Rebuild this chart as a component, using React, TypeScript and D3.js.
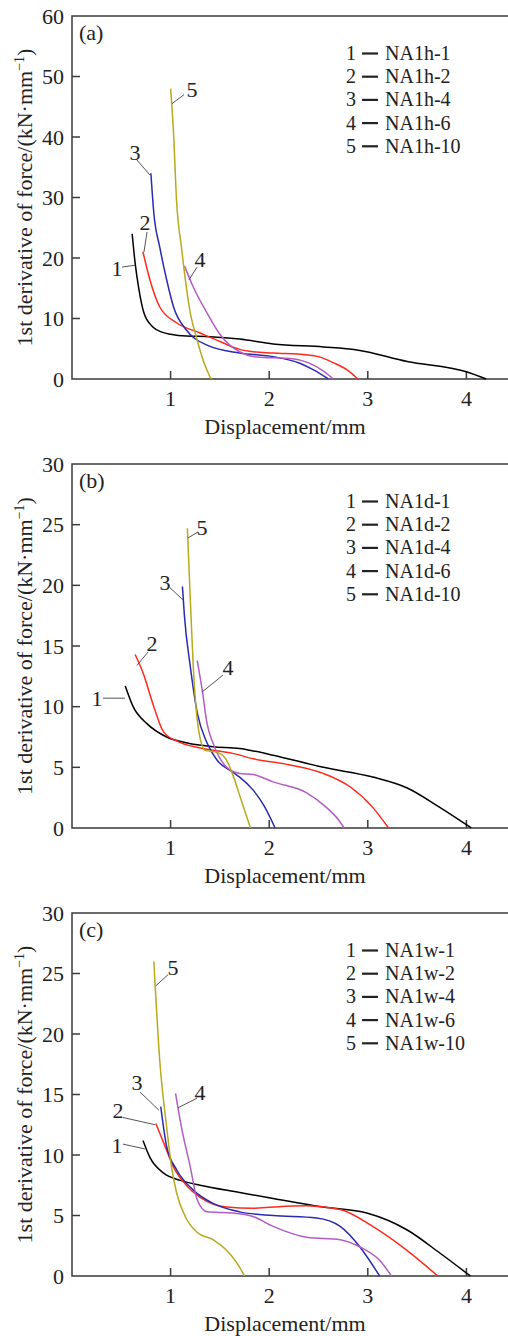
import * as d3 from "d3";

// ---- data (x = displacement mm, y = 1st derivative kN/mm) ----
type Pt = [number, number];

const seriesIds = ["1", "2", "3", "4", "5"];
const colors = ["#000000", "#ff2a1a", "#2a2ab0", "#b35cc4", "#b8aa1c"];

const namesA = ["NA1h-1", "NA1h-2", "NA1h-4", "NA1h-6", "NA1h-10"];
const namesB = ["NA1d-1", "NA1d-2", "NA1d-4", "NA1d-6", "NA1d-10"];
const namesC = ["NA1w-1", "NA1w-2", "NA1w-4", "NA1w-6", "NA1w-10"];

const xTicks = [1, 2, 3, 4];
const yTicksA = [0, 10, 20, 30, 40, 50, 60];
const yTicksBC = [0, 5, 10, 15, 20, 25, 30];

// panel (a)
const a1: Pt[] = [[0.61, 24], [0.64, 19.2], [0.68, 14.7], [0.73, 10.9], [0.82, 8.6], [0.92, 7.7], [1.0, 7.4], [1.16, 7.1], [1.4, 7.0], [1.7, 6.6], [2.04, 5.8], [2.55, 5.3], [2.89, 4.8], [3.4, 2.9], [4.0, 1.2], [4.2, 0]];
const a2: Pt[] = [[0.72, 21], [0.79, 16.4], [0.89, 11.9], [1.06, 9.3], [1.3, 7.6], [1.5, 6.2], [1.7, 4.9], [1.84, 4.5], [2.04, 4.3], [2.38, 4.0], [2.5, 3.7], [2.65, 2.7], [2.79, 1.5], [2.9, 0]];
const a3: Pt[] = [[0.8, 34], [0.83, 27.4], [0.89, 21.8], [0.96, 16.4], [1.03, 11.9], [1.16, 8.1], [1.37, 5.6], [1.7, 4.3], [2.04, 3.7], [2.31, 2.6], [2.45, 1.5], [2.6, 0]];
const a4: Pt[] = [[1.14, 18.7], [1.23, 15.2], [1.37, 10.9], [1.5, 7.4], [1.6, 5.6], [1.7, 4.5], [1.84, 3.7], [2.04, 3.5], [2.21, 3.4], [2.45, 2.3], [2.55, 1.3], [2.65, 0]];
const a5: Pt[] = [[1.0, 48], [1.03, 40.6], [1.06, 29.6], [1.11, 21.8], [1.2, 10.9], [1.27, 6.4], [1.33, 3.1], [1.41, 0]];

// panel (b)
const b1: Pt[] = [[0.54, 11.7], [0.62, 10.0], [0.76, 8.6], [0.96, 7.5], [1.17, 7.0], [1.43, 6.7], [1.7, 6.55], [1.84, 6.35], [2.04, 6.0], [2.55, 5.0], [3.05, 4.2], [3.4, 3.3], [3.73, 1.7], [4.05, 0]];
const b2: Pt[] = [[0.64, 14.3], [0.72, 12.8], [0.83, 10.0], [0.93, 7.9], [1.08, 7.1], [1.3, 6.6], [1.63, 6.15], [1.84, 5.7], [2.21, 5.2], [2.55, 4.5], [2.82, 3.4], [3.05, 1.7], [3.21, 0]];
const b3: Pt[] = [[1.12, 19.9], [1.14, 17.5], [1.2, 13.3], [1.27, 9.5], [1.37, 7.0], [1.47, 5.6], [1.63, 4.6], [1.7, 4.2], [1.84, 3.1], [1.95, 1.8], [2.06, 0]];
const b4: Pt[] = [[1.27, 13.8], [1.32, 11.4], [1.37, 8.6], [1.43, 7.0], [1.57, 5.0], [1.7, 4.5], [1.84, 4.4], [2.04, 3.8], [2.38, 2.9], [2.58, 1.7], [2.7, 0.7], [2.76, 0]];
const b5: Pt[] = [[1.17, 24.7], [1.2, 18.8], [1.23, 13.3], [1.28, 8.3], [1.35, 6.4], [1.43, 6.3], [1.5, 6.15], [1.56, 5.7], [1.63, 4.4], [1.72, 2.2], [1.81, 0]];

// panel (c)
const c1: Pt[] = [[0.72, 11.2], [0.79, 9.8], [0.93, 8.5], [1.1, 7.9], [1.3, 7.5], [1.7, 6.9], [2.04, 6.4], [2.55, 5.7], [2.99, 5.2], [3.4, 3.8], [3.73, 1.9], [4.04, 0]];
const c2: Pt[] = [[0.85, 12.6], [0.93, 11.0], [1.03, 9.0], [1.17, 7.4], [1.3, 6.5], [1.57, 5.7], [1.84, 5.6], [2.04, 5.7], [2.38, 5.8], [2.72, 5.5], [3.05, 4.1], [3.4, 2.1], [3.71, 0]];
const c3: Pt[] = [[0.9, 14.0], [0.96, 10.7], [1.06, 8.8], [1.23, 7.1], [1.43, 6.0], [1.7, 5.3], [2.04, 5.0], [2.48, 4.8], [2.72, 4.1], [2.92, 2.4], [3.12, 0]];
const c4: Pt[] = [[1.05, 15.1], [1.11, 12.3], [1.2, 9.0], [1.27, 6.3], [1.37, 5.3], [1.63, 5.2], [1.84, 4.9], [2.04, 4.1], [2.38, 3.2], [2.72, 3.0], [2.92, 2.4], [3.12, 1.3], [3.24, 0]];
const c5: Pt[] = [[0.83, 26], [0.89, 17.8], [0.96, 12.3], [1.01, 9.0], [1.06, 6.9], [1.15, 4.9], [1.27, 3.6], [1.43, 3.0], [1.57, 2.1], [1.67, 1.1], [1.75, 0]];

// curve labels: [label pos, leader start, leader end] in data units
type Ann = { label: Pt; from: Pt; to: Pt };
const annA: Ann[] = [
  { label: [0.456, 18.3], from: [0.507, 18.5], to: [0.639, 18.8] },
  { label: [0.74, 25.8], from: [0.761, 24.3], to: [0.73, 21.0] },
  { label: [0.639, 37.5], from: [0.659, 36.2], to: [0.791, 33.7] },
  { label: [1.298, 19.7], from: [1.268, 18.5], to: [1.187, 16.4] },
  { label: [1.217, 47.8], from: [1.136, 47.0], to: [1.014, 45.5] },
];
const annB: Ann[] = [
  { label: [0.254, 10.7], from: [0.314, 10.7], to: [0.538, 10.7] },
  { label: [0.811, 15.2], from: [0.771, 14.5], to: [0.659, 13.4] },
  { label: [0.943, 20.2], from: [0.994, 19.8], to: [1.126, 18.8] },
  { label: [1.582, 13.2], from: [1.531, 12.6], to: [1.318, 11.2] },
  { label: [1.318, 24.8], from: [1.278, 24.4], to: [1.176, 23.9] },
];
const annC: Ann[] = [
  { label: [0.456, 10.8], from: [0.517, 10.9], to: [0.74, 10.5] },
  { label: [0.467, 13.7], from: [0.517, 13.1], to: [0.842, 12.5] },
  { label: [0.659, 16.0], from: [0.69, 15.2], to: [0.882, 13.7] },
  { label: [1.298, 15.2], from: [1.268, 14.7], to: [1.075, 13.9] },
  { label: [1.024, 25.5], from: [0.974, 24.9], to: [0.852, 24.0] },
];

const panels = [
  { tag: "(a)", top: 16, bottom: 379, yMax: 60, yTicks: yTicksA, series: [a1, a2, a3, a4, a5], names: namesA, ann: annA },
  { tag: "(b)", top: 464, bottom: 828, yMax: 30, yTicks: yTicksBC, series: [b1, b2, b3, b4, b5], names: namesB, ann: annB },
  { tag: "(c)", top: 913, bottom: 1276, yMax: 30, yTicks: yTicksBC, series: [c1, c2, c3, c4, c5], names: namesC, ann: annC },
];

const W = 508;
const H = 1336;
const left = 72;
const font = "'Liberation Serif', 'Times New Roman', serif";
const fs = 22;
const legFs = 20;
const axisColor = "#3a3a3a";
const legendStep = 23.2;

const x = d3.scaleLinear().domain([0, 4.42]).range([left, left + 98.6 * 4.42]);

function Panel({ p }: { p: (typeof panels)[number] }) {
  const y = d3.scaleLinear().domain([0, p.yMax]).range([p.bottom, p.top]);
  const line = d3
    .line<Pt>()
    .x((d) => x(d[0]))
    .y((d) => y(d[1]))
    .curve(d3.curveMonotoneX);
  const midY = (p.top + p.bottom) / 2;
  const legTop = p.top + 44;

  return (
    <g>
      {/* frame: left, top, bottom */}
      <path
        d={`M${W},${p.top}H${left}V${p.bottom}H${W}`}
        fill="none"
        stroke={axisColor}
        strokeWidth={1.5}
      />
      {/* y ticks */}
      {p.yTicks.map((t) => (
        <g key={"y" + t}>
          {t > 0 && t < p.yMax && (
            <line x1={left} x2={left + 8} y1={y(t)} y2={y(t)} stroke={axisColor} strokeWidth={1.5} />
          )}
          <text x={left - 8} y={y(t) + 7.5} textAnchor="end" fontSize={fs} fill="#222">
            {t}
          </text>
        </g>
      ))}
      {/* x ticks */}
      {xTicks.map((t) => (
        <g key={"x" + t}>
          <line x1={x(t)} x2={x(t)} y1={p.bottom} y2={p.bottom - 8} stroke={axisColor} strokeWidth={1.5} />
          <text x={x(t)} y={p.bottom + 27} textAnchor="middle" fontSize={fs} fill="#222">
            {t}
          </text>
        </g>
      ))}
      <text x={285} y={p.bottom + 55} textAnchor="middle" fontSize={fs} fill="#222">
        Displacement/mm
      </text>
      <text
        transform={`translate(32,${midY}) rotate(-90)`}
        textAnchor="middle"
        fontSize={fs}
        fill="#222"
      >
        1st derivative of force/(kN·mm
        <tspan fontSize={14} dy={-8}>−1</tspan>
        <tspan dy={8}>)</tspan>
      </text>
      <text x={79} y={p.top + 24} fontSize={fs} fill="#222">
        {p.tag}
      </text>

      {/* curves */}
      {p.series.map((s, i) => (
        <path key={"s" + i} d={line(s) ?? ""} fill="none" stroke={colors[i]} strokeWidth={1.5} />
      ))}

      {/* curve labels */}
      {p.ann.map((a, i) => (
        <g key={"a" + i}>
          <line
            x1={x(a.from[0])}
            y1={y(a.from[1])}
            x2={x(a.to[0])}
            y2={y(a.to[1])}
            stroke="#555"
            strokeWidth={1}
          />
          <text x={x(a.label[0])} y={y(a.label[1]) + 7.5} textAnchor="middle" fontSize={fs} fill="#222">
            {seriesIds[i]}
          </text>
        </g>
      ))}

      {/* legend */}
      {p.names.map((n, i) => {
        const by = legTop + i * legendStep;
        return (
          <g key={"l" + n}>
            <text x={346} y={by} fontSize={legFs} fill="#222">
              {seriesIds[i]}
            </text>
            <line x1={362} x2={378} y1={by - 6.5} y2={by - 6.5} stroke="#222" strokeWidth={2.2} />
            <text x={385} y={by} fontSize={legFs} fill="#222">
              {n}
            </text>
          </g>
        );
      })}
    </g>
  );
}

export default function App() {
  return (
    <svg
      width={W}
      height={H}
      style={{ position: "absolute", left: 0, top: 0, background: "#fff" }}
      fontFamily={font}
    >
      <rect width={W} height={H} fill="#fff" />
      {panels.map((p) => (
        <Panel key={p.tag} p={p} />
      ))}
    </svg>
  );
}
